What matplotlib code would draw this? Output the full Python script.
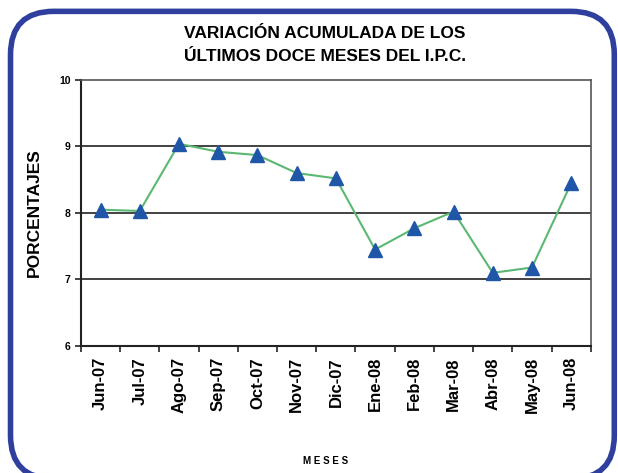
import matplotlib
matplotlib.use('Agg')
import matplotlib.pyplot as plt
from matplotlib.patches import FancyBboxPatch

plt.rcParams['font.family'] = ['Liberation Sans', 'DejaVu Sans']

# data
meses = ['Jun-07', 'Jul-07', 'Ago-07', 'Sep-07', 'Oct-07', 'Nov-07', 'Dic-07',
         'Ene-08', 'Feb-08', 'Mar-08', 'Abr-08', 'May-08', 'Jun-08']
ipc = [8.05, 8.03, 9.04, 8.92, 8.87, 8.60, 8.52, 7.45, 7.77, 8.02, 7.10, 7.18, 8.45]

fig = plt.figure(figsize=(6.18, 4.73), dpi=100)

# rounded blue frame
frame = FancyBboxPatch((0.017, -0.012), 0.977, 0.988, boxstyle='round,pad=0,rounding_size=0.07',
                       transform=fig.transFigure, facecolor='white', edgecolor='#2E3F9E',
                       linewidth=4, mutation_aspect=618 / 473, zorder=-5)
fig.patches.append(frame)

ax = fig.add_axes([0.131, 0.2685, 0.825, 0.5625])
ax.set_facecolor('none')
x = range(len(meses))
ax.plot(x, ipc, color='#5BB872', linewidth=1.5, marker='^', markersize=10.5,
        markerfacecolor='#1F56A8', markeredgecolor='#1F56A8', zorder=3)

ax.set_xlim(-0.5, len(meses) - 0.5)
ax.set_ylim(6, 10)
ax.set_yticks([6, 7, 8, 9, 10])
ax.set_yticklabels(['6', '7', '8', '9', '10'], fontsize=7.5, fontweight='bold')
ax.set_xticks(list(x))
ax.set_xticklabels(meses, rotation=90, fontsize=12, fontweight='bold')
ax.tick_params(axis='x', length=0, pad=8)
ax.set_xticks([i + 0.5 for i in range(-1, len(meses))], minor=True)
ax.tick_params(axis='x', which='minor', length=4, width=1.2, direction='out', color='#222222')
ax.tick_params(axis='y', length=4, width=1.2, color='#222222')
for yv in [7, 8, 9]:
    ax.axhline(yv, color='#222222', linewidth=1.2, zorder=1)

for s in ['left', 'bottom']:
    ax.spines[s].set_color('#222222')
    ax.spines[s].set_linewidth(1.5)
for s in ['top', 'right']:
    ax.spines[s].set_color('#555555')
    ax.spines[s].set_linewidth(1.2)

ax.set_ylabel('PORCENTAJES', fontsize=12.5, fontweight='bold', labelpad=12)
fig.text(0.526, 0.905, 'VARIACIÓN ACUMULADA DE LOS\nÚLTIMOS DOCE MESES DEL I.P.C.',
         ha='center', va='center', fontsize=12.5, fontweight='bold', linespacing=1.65)
fig.text(0.526, 0.025, 'M E S E S', ha='center', va='center', fontsize=7, fontweight='bold')

fig.savefig('out.png', dpi=100)
